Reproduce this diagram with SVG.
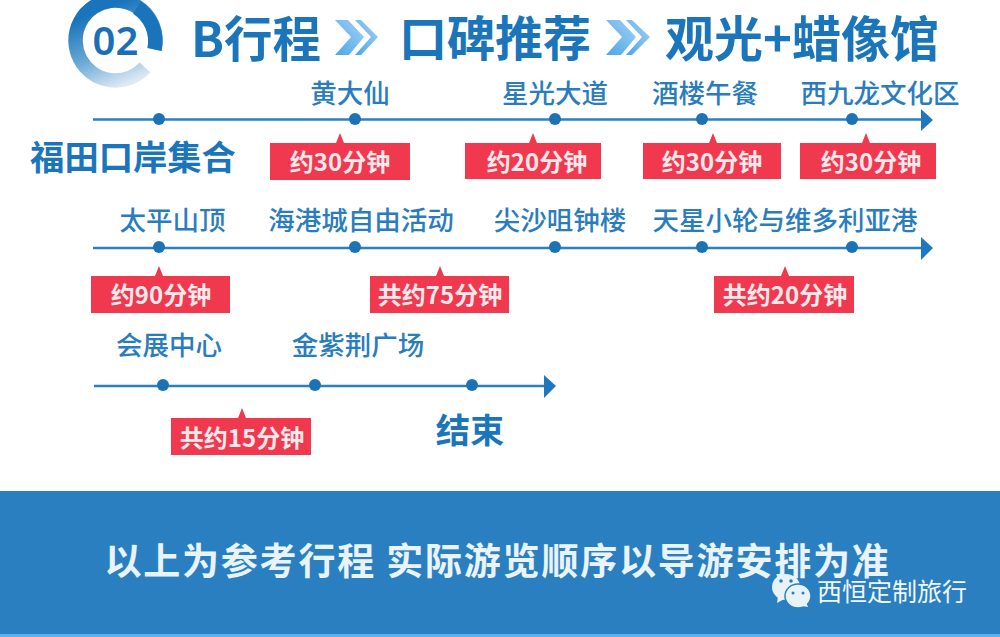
<svg xmlns="http://www.w3.org/2000/svg" width="1000" height="637" viewBox="0 0 1000 637">
<style>
text{font-family:"Noto Sans CJK SC","Noto Sans",sans-serif}
.t{fill:#1a75bb;font-weight:700;font-size:48.500px}
.p{fill:#2a7dbd;font-weight:500;font-size:26.500px;text-anchor:middle}
.b{fill:#1a75bb;font-weight:700;font-size:34.300px;text-anchor:middle}
.d{fill:#fbe9ec;font-weight:700;font-size:24px;text-anchor:middle}
.l{stroke:#2a80c0;stroke-width:2.5;fill:none}
.n{fill:#1b72b5}
.a{fill:#1f78bd}
.r{fill:#f0394f}
</style>
<defs>
<linearGradient id="ring" gradientUnits="userSpaceOnUse" x1="125" y1="0" x2="160" y2="85"><stop offset="0" stop-color="#1a74bb"/><stop offset=".45" stop-color="#6aa8d6"/><stop offset=".8" stop-color="#cfe1f0"/><stop offset="1" stop-color="#ffffff"/></linearGradient>
<linearGradient id="chev" x1="0" y1="1" x2="1" y2="0"><stop offset="0" stop-color="#4aa5ea"/><stop offset="1" stop-color="#a5d2f3"/></linearGradient>
</defs>
<rect width="1000" height="637" fill="#ffffff"/>
<g id="header">
<path d="M154.500 49.500A40 40 0 1 0 145 67.500" fill="none" stroke="url(#ring)" stroke-width="14.500"/>
<path d="M154.500 49.500A40 40 0 0 0 137 7.600" fill="none" stroke="#1a74bb" stroke-width="14.500"/>
<text x="115.500" y="55" fill="#1a6fb5" style="font-family:'Noto Sans',sans-serif;font-weight:600;font-size:40px" text-anchor="middle">02</text>
<text class="t" x="191" y="57">B行程</text>
<polygon points="335,20 348,20 364,37 349,55 335,55 351,37" fill="url(#chev)"/>
<polygon points="355,20 361,20 378,37 361,55 355,55 371,37" fill="url(#chev)"/>
<text class="t" x="399" y="56" style="font-size:48px">口碑推荐</text>
<polygon points="606,20 620,20 636,37 621,55 606,55 622,37" fill="url(#chev)"/>
<polygon points="626,20 632,20 650,37 632,55 626,55 642,37" fill="url(#chev)"/>
<text class="t" x="665" y="57" style="font-size:49px">观光+蜡像馆</text>
</g>
<g id="connectors">
<line class="l" x1="93" y1="119.500" x2="922" y2="119.500"/><polygon class="a" points="921,109 933,120 921,131"/>
<line class="l" x1="93" y1="248" x2="922" y2="248"/><polygon class="a" points="921,237 933,248 921,260"/>
<line class="l" x1="94" y1="386" x2="545" y2="386"/><polygon class="a" points="544,375 556,386 544,398"/>
</g>
<g id="row1">
<circle class="n" cx="159" cy="119" r="6"/><circle class="n" cx="355" cy="119" r="6"/><circle class="n" cx="555" cy="119" r="6"/><circle class="n" cx="702" cy="119" r="6"/><circle class="n" cx="852" cy="119" r="6"/>
<text class="p" x="350" y="103">黄大仙</text>
<text class="p" x="555" y="103">星光大道</text>
<text class="p" x="705" y="103">酒楼午餐</text>
<text class="p" x="880" y="103">西九龙文化区</text>
<text class="b" x="133" y="170">福田口岸集合</text>
</g>
<g id="dur1">
<path class="r" d="M270 143H336L340 133L344 143H410V180H270Z"/><text class="d" x="340" y="171">约30分钟</text>
<path class="r" d="M465 143H529L533 133L537 143H601V179H465Z"/><text class="d" x="537" y="171">约20分钟</text>
<path class="r" d="M643 143H709L713 133L717 143H781V179H643Z"/><text class="d" x="712" y="171">约30分钟</text>
<path class="r" d="M800 143H862L866 133L870 143H936V179H800Z"/><text class="d" x="871" y="171">约30分钟</text>
</g>
<g id="row2">
<circle class="n" cx="159" cy="247" r="6"/><circle class="n" cx="355" cy="247" r="6"/><circle class="n" cx="555" cy="247" r="6"/><circle class="n" cx="702" cy="247" r="6"/><circle class="n" cx="852" cy="247" r="6"/>
<text class="p" x="172.500" y="230">太平山顶</text>
<text class="p" x="361" y="230">海港城自由活动</text>
<text class="p" x="560" y="230">尖沙咀钟楼</text>
<text class="p" x="785" y="230">天星小轮与维多利亚港</text>
</g>
<g id="dur2">
<path class="r" d="M91 276H155L159 266L163 276H230V313H91Z"/><text class="d" x="161" y="304">约90分钟</text>
<path class="r" d="M370 276H436L440 266L444 276H509V313H370Z"/><text class="d" x="440" y="304">共约75分钟</text>
<path class="r" d="M714 276H781L785 266L789 276H854V313H714Z"/><text class="d" x="785" y="304">共约20分钟</text>
</g>
<g id="row3">
<circle class="n" cx="163" cy="385" r="6"/><circle class="n" cx="315" cy="385" r="6"/><circle class="n" cx="472" cy="385" r="6"/>
<text class="p" x="169" y="355">会展中心</text>
<text class="p" x="358" y="355">金紫荆广场</text>
<path class="r" d="M171 418H238L242 408L246 418H311V455H171Z"/><text class="d" x="242" y="447">共约15分钟</text>
<text class="b" x="470" y="443">结束</text>
</g>
<g id="footer">
<rect x="0" y="491" width="1000" height="146" fill="#2a7fc1"/>
<rect x="0" y="634" width="1000" height="3" fill="#5cb3ea"/>
<text x="497.500" y="575" fill="#e9f3fa" text-anchor="middle" style="font-weight:700;font-size:37px;letter-spacing:1.800px">以上为参考行程 实际游览顺序以导游安排为准</text>
<ellipse cx="786" cy="587" rx="14" ry="13" fill="#e8f2fa"/><polygon points="778,596 777,603 786,598" fill="#e8f2fa"/>
<ellipse cx="798" cy="596" rx="13" ry="12" stroke="#2a7fc1" stroke-width="1.500" fill="#e8f2fa"/><polygon points="802,606 808,607 806,602" fill="#e8f2fa"/>
<circle cx="781" cy="581" r="1.800" fill="#2a7fc1"/><circle cx="791" cy="581" r="1.800" fill="#2a7fc1"/><circle cx="793" cy="593" r="1.500" fill="#2a7fc1"/><circle cx="803" cy="593" r="1.500" fill="#2a7fc1"/>
<text x="892" y="601" fill="#f2f7fb" text-anchor="middle" style="font-size:25px">西恒定制旅行</text>
</g>
</svg>
